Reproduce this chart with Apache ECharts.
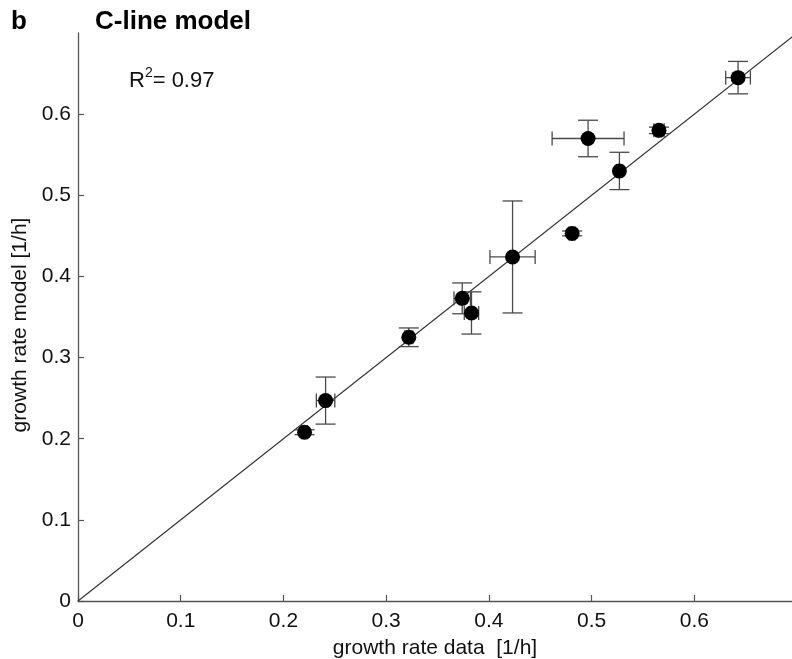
<!DOCTYPE html>
<html>
<head>
<meta charset="utf-8">
<script src="https://cdn.jsdelivr.net/npm/echarts@6/dist/echarts.min.js"></script>
<style>html,body{margin:0;padding:0;background:#fff}#c{width:792px;height:659px}</style>
</head>
<body>
<div id="c"></div>
<script>
// Data
var xData = [0.2205, 0.241, 0.322, 0.374, 0.383, 0.423, 0.481, 0.4965, 0.527, 0.5655, 0.6425];
var yData = [0.208, 0.247, 0.325, 0.373, 0.355, 0.424, 0.453, 0.570, 0.530, 0.580, 0.645];
var xErr  = [0.003, 0.009, 0.004, 0.008, 0.007, 0.022, 0.003, 0.035, 0.003, 0.005, 0.012];
var yErr  = [0.003, 0.029, 0.0115, 0.019, 0.026, 0.069, 0.003, 0.0225, 0.023, 0.004, 0.020];
var tickValues = [0, 0.1, 0.2, 0.3, 0.4, 0.5, 0.6];
var identityLine = [[0, 0], [0.7, 0.7]];

var FONT = "'Liberation Sans', Arial, sans-serif";
var pts = xData.map(function (x, i) { return [x, yData[i]]; });
var errData = xData.map(function (x, i) { return [x, yData[i], xErr[i], yErr[i]]; });

var chart = echarts.init(document.getElementById('c'), null, {renderer: 'canvas'});
var lineStyleErr = {stroke: '#4a4a4a', lineWidth: 1.3};
function fmt(v) { var r = Math.round(v * 10) / 10; return r > 0.65 ? '' : String(r); }

chart.setOption({
  animation: false,
  backgroundColor: '#fff',
  grid: {left: 78, right: 0, top: 33, bottom: 58, containLabel: false, outerBoundsMode: 'none'},
  xAxis: {
    type: 'value', min: 0, max: 0.695, interval: 0.1,
    name: 'growth rate data  [1/h]', nameLocation: 'middle', nameGap: 37,
    nameTextStyle: {fontFamily: FONT, fontSize: 21, color: '#111'},
    axisLine: {show: true, onZero: false, lineStyle: {color: '#555', width: 1.3}},
    axisTick: {show: true, inside: true, length: 6, customValues: tickValues, lineStyle: {color: '#555', width: 1.2}},
    axisLabel: {fontFamily: FONT, fontSize: 21, color: '#111', margin: 10, customValues: tickValues, formatter: fmt},
    splitLine: {show: false}
  },
  yAxis: {
    type: 'value', min: 0, max: 0.7, interval: 0.1,
    name: 'growth rate model [1/h]', nameLocation: 'middle', nameGap: 46,
    nameTextStyle: {fontFamily: FONT, fontSize: 21, color: '#111', padding: [0, 16, 0, 0]},
    axisLine: {show: true, onZero: false, lineStyle: {color: '#555', width: 1.3}},
    axisTick: {show: true, inside: true, length: 6, customValues: tickValues, lineStyle: {color: '#555', width: 1.2}},
    axisLabel: {fontFamily: FONT, fontSize: 21, color: '#111', margin: 7, customValues: tickValues, formatter: fmt},
    splitLine: {show: false}
  },
  graphic: [
    {type: 'text', left: 11, top: 9, style: {text: 'b', font: 'bold 26px ' + FONT, fill: '#000'}},
    {type: 'text', left: 95, top: 9, style: {text: 'C-line model', font: 'bold 26px ' + FONT, fill: '#000'}},
    {type: 'text', left: 129, top: 66, style: {
      text: '{r|R}{s|2}{r|= 0.97}',
      rich: {
        r: {fontFamily: FONT, fontSize: 22, fill: '#111', verticalAlign: 'bottom', lineHeight: 26},
        s: {fontFamily: FONT, fontSize: 14, fill: '#111', verticalAlign: 'top', lineHeight: 26, padding: [0, 0, 10, 0]}
      }
    }}
  ],
  series: [
    {
      type: 'line', data: identityLine, symbol: 'none', clip: true,
      lineStyle: {color: '#333', width: 1.2}, z: 1, silent: true
    },
    {
      type: 'custom', data: errData, z: 2, silent: true, clip: false,
      renderItem: function (params, api) {
        var x = api.value(0), y = api.value(1), ex = api.value(2), ey = api.value(3);
        var top = api.coord([x, y + ey]), bot = api.coord([x, y - ey]);
        var lft = api.coord([x - ex, y]), rgt = api.coord([x + ex, y]);
        var vc = 10, hc = 7;
        var segs = [
          [top[0], top[1], bot[0], bot[1]],
          [top[0] - vc, top[1], top[0] + vc, top[1]],
          [bot[0] - vc, bot[1], bot[0] + vc, bot[1]],
          [lft[0], lft[1], rgt[0], rgt[1]],
          [lft[0], lft[1] - hc, lft[0], lft[1] + hc],
          [rgt[0], rgt[1] - hc, rgt[0], rgt[1] + hc]
        ];
        return {
          type: 'group',
          children: segs.map(function (s) {
            return {type: 'line', shape: {x1: s[0], y1: s[1], x2: s[2], y2: s[3]}, style: lineStyleErr};
          })
        };
      }
    },
    {
      type: 'scatter', data: pts, symbol: 'circle', symbolSize: 15, z: 3,
      itemStyle: {color: '#000', opacity: 1}
    }
  ]
});
</script>
</body>
</html>
